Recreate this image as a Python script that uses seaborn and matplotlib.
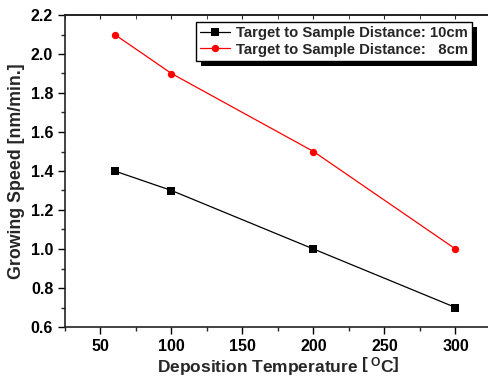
import matplotlib
matplotlib.use("Agg")
import matplotlib.pyplot as plt
import seaborn as sns
import pandas as pd
from matplotlib.ticker import MultipleLocator
from matplotlib.patches import Rectangle

temperature = [60, 100, 200, 300]
speed_10cm = [1.4, 1.3, 1.0, 0.7]
speed_8cm = [2.1, 1.9, 1.5, 1.0]
series_names = ["Target to Sample Distance: 10cm", "Target to Sample Distance:   8cm"]

df = pd.DataFrame({
    "T": temperature * 2,
    "v": speed_10cm + speed_8cm,
    "s": [series_names[0]] * 4 + [series_names[1]] * 4,
})

sns.set_style("ticks")
plt.rcParams['font.family'] = ['Liberation Sans', 'DejaVu Sans']
plt.rcParams['font.weight'] = 'bold'
plt.rcParams['axes.labelweight'] = 'bold'
plt.rcParams['mathtext.fontset'] = 'custom'
plt.rcParams['mathtext.rm'] = 'Liberation Sans:bold'
plt.rcParams['mathtext.bf'] = 'Liberation Sans:bold'
plt.rcParams['mathtext.default'] = 'bf'

fig = plt.figure(figsize=(4.89, 3.80), dpi=100)
ax = fig.add_axes([65/489, 53/380, 426/489, 312/380])

sns.lineplot(data=df, x="T", y="v", hue="s", style="s",
             palette=["black", "red"], markers=["s", "o"], dashes=False,
             markersize=5.3, markeredgewidth=0, linewidth=0.9, ax=ax)

ax.set_xlim(25, 325)
ax.set_ylim(0.6, 2.2)
ax.xaxis.set_major_locator(MultipleLocator(50))
ax.xaxis.set_minor_locator(MultipleLocator(25))
ax.yaxis.set_major_locator(MultipleLocator(0.2))
ax.yaxis.set_minor_locator(MultipleLocator(0.1))
ax.yaxis.set_major_formatter(matplotlib.ticker.FormatStrFormatter('%.1f'))
ax.tick_params(which='major', direction='out', length=5, width=1, labelsize=11.5, colors='black')
ax.tick_params(which='minor', direction='out', length=3, width=1)
for sp in ax.spines.values():
    sp.set_linewidth(1.2)
    sp.set_color('#222222')

top = ax.secondary_xaxis('top')
top.set_xticks([50, 100, 150, 200, 250, 300])
top.xaxis.set_minor_locator(MultipleLocator(25))
top.tick_params(which='both', direction='in', length=3, labeltop=False)
top.spines['top'].set_linewidth(1.2)

ax.set_xlabel(r"Deposition Temperature $\left[\,^{\mathrm{O}}\mathrm{C}\right]$", fontsize=12.5, fontweight='bold', labelpad=1)
ax.set_ylabel("Growing Speed [nm/min.]", fontsize=12.8, fontweight='bold', labelpad=4)

leg = ax.legend(loc='upper left', bbox_to_anchor=(0.307, 0.978), fontsize=10.7,
                frameon=True, fancybox=False, edgecolor='black', framealpha=1,
                handlelength=2.0, handletextpad=0.4, borderpad=0.3,
                labelspacing=0.15, borderaxespad=0)
leg.get_frame().set_linewidth(1.0)
for t in leg.get_texts():
    t.set_fontweight('bold')

fig.canvas.draw()
bb = leg.get_window_extent()
shadow = Rectangle((bb.x0 + 5, bb.y0 - 5), bb.width, bb.height, transform=None,
                   facecolor='black', edgecolor='none', zorder=4.5, clip_on=False)
ax.add_artist(shadow)
leg.set_zorder(6)

fig.savefig("out.png", dpi=100)
